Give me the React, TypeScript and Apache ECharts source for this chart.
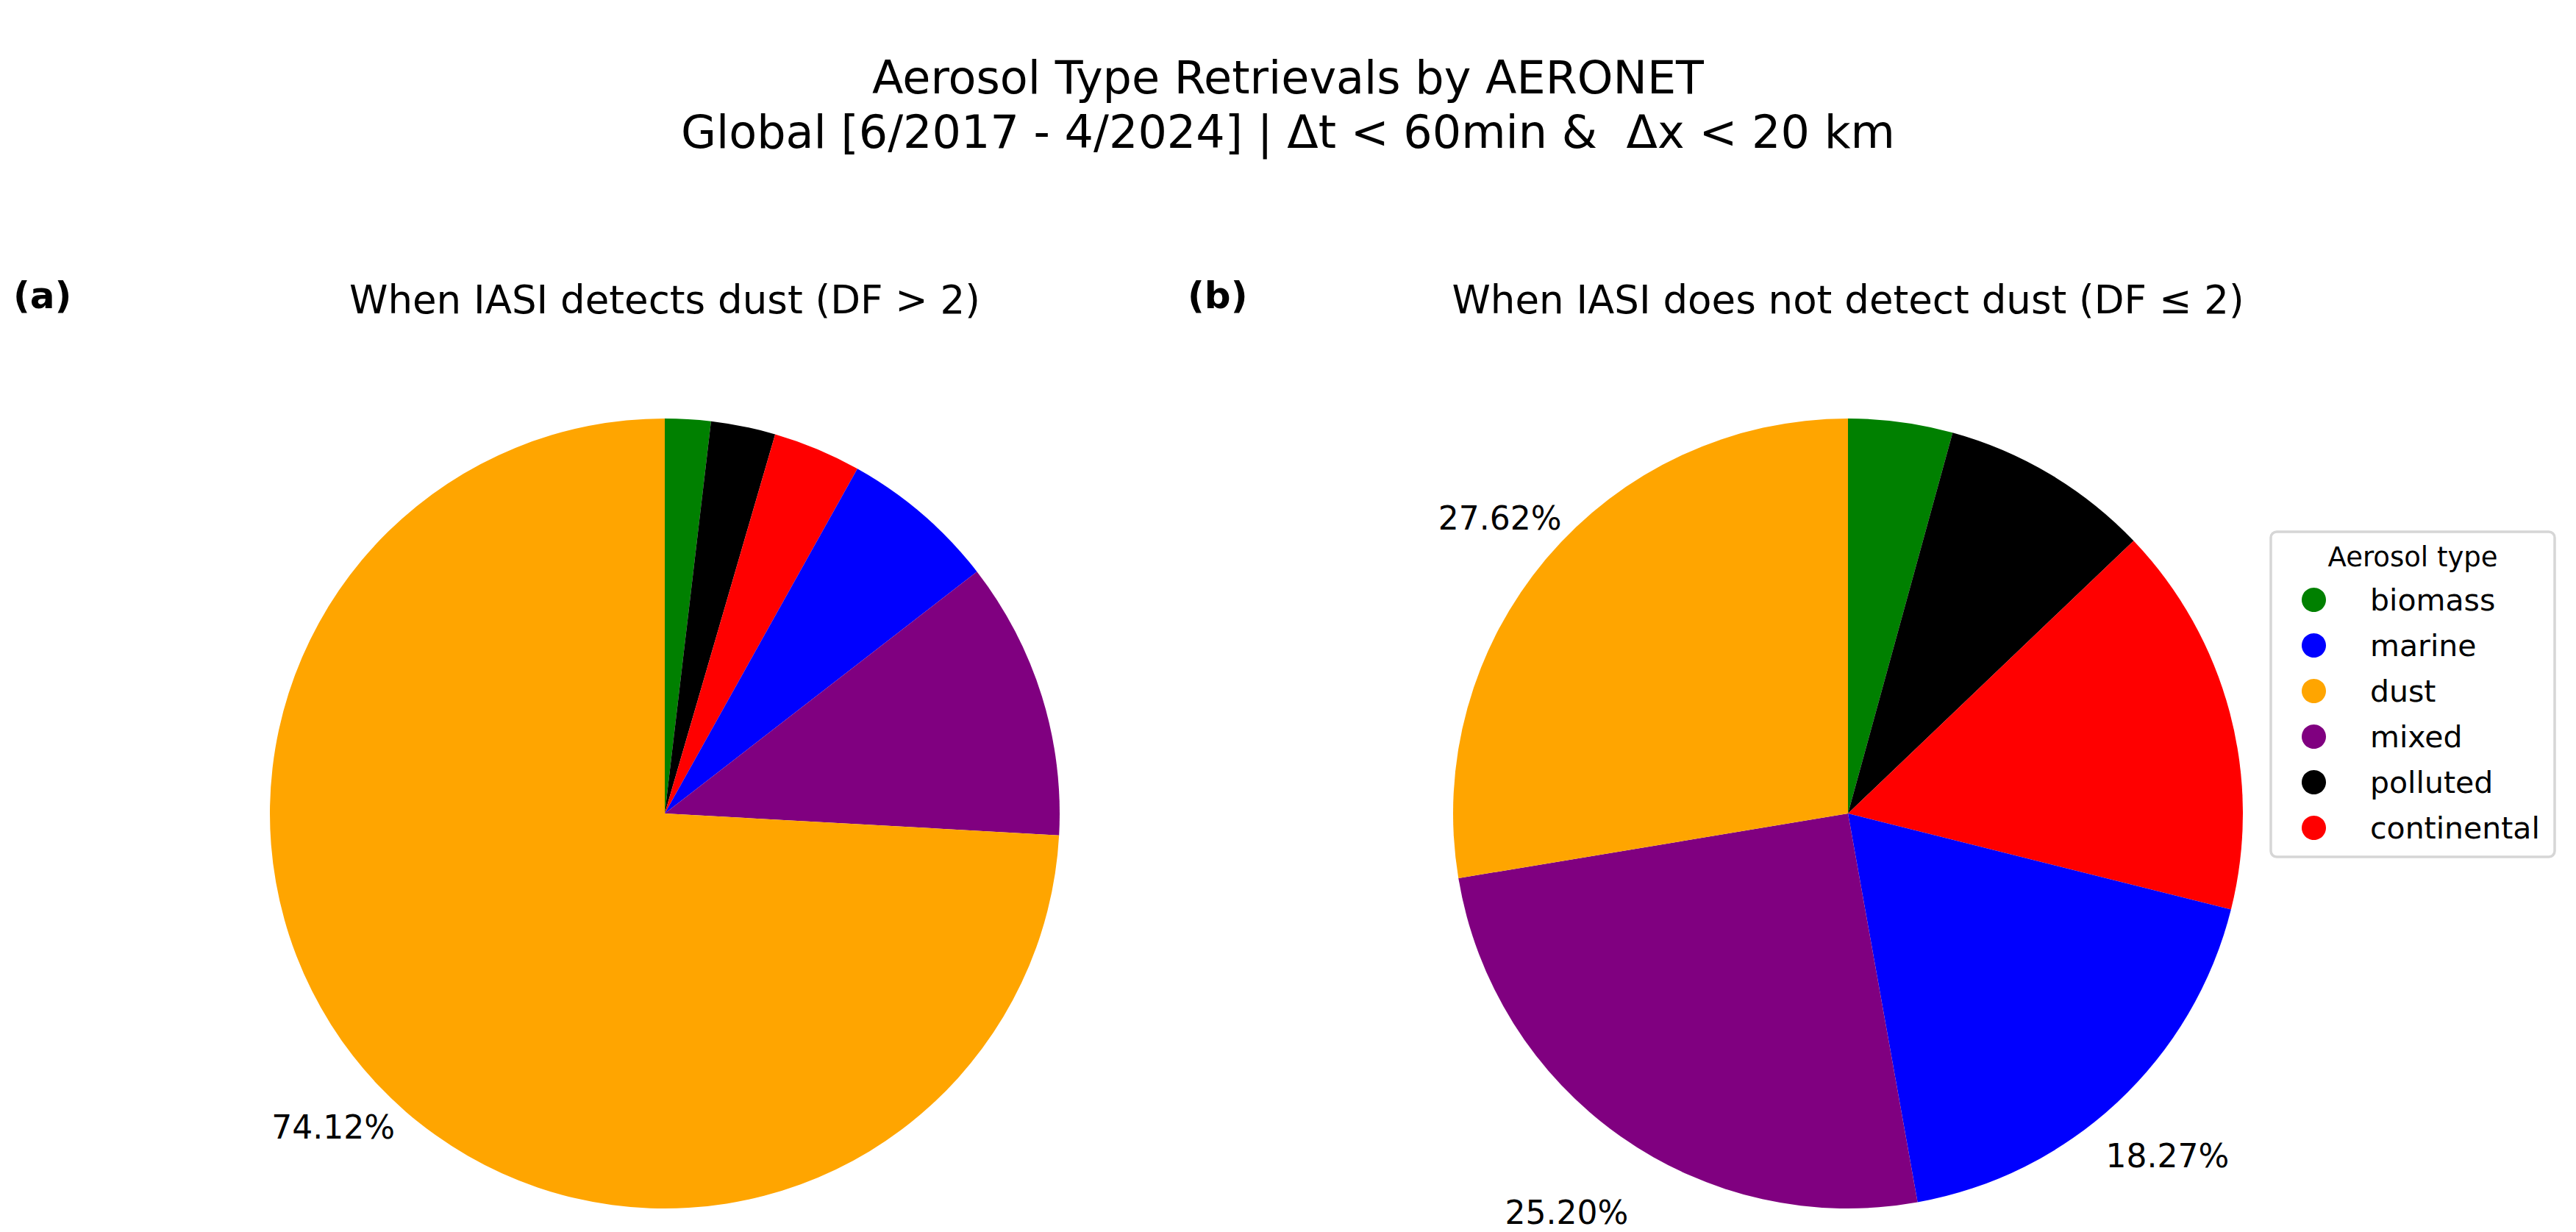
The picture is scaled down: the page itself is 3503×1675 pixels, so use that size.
import React, { useEffect, useRef } from 'react';
import * as echarts from 'echarts';

// ---- data ----
const categories = ['biomass', 'polluted', 'continental', 'marine', 'mixed', 'dust'];
const categoryColors = ['#008000', '#000000', '#ff0000', '#0000ff', '#800080', '#ffa500'];
const detectDust = [1.87, 2.64, 3.6, 6.4, 11.37, 74.12];
const noDetectDust = [4.27, 8.6, 16.04, 18.27, 25.2, 27.62];
const legendOrder = ['biomass', 'marine', 'dust', 'mixed', 'polluted', 'continental'];
const labelThreshold = 17;

const titleLines = [
  'Aerosol Type Retrievals by AERONET',
  'Global [6/2017 - 4/2024] | \u0394t < 60min &  \u0394x < 20 km',
];
const panelTitles = ['When IASI detects dust (DF > 2)', 'When IASI does not detect dust (DF \u2264 2)'];
const panelTags = ['(a)', '(b)'];
const legendTitle = 'Aerosol type';

// ---- layout ----
const W = 3503;
const H = 1675;
const R = 537;
const centers = [
  [904, 1106],
  [2513, 1106],
];
// distance of the percentage label from the centre, in pie radii (per category)
const labelRadiusFactor = [1.15, 1.15, 1.15, 1.18, 1.23, 1.15];
const FONT = 'DejaVu Sans';

function pieData(values: number[]) {
  return categories.map((name, i) => ({ name, value: values[i], itemStyle: { color: categoryColors[i] } }));
}
function labelData(values: number[]) {
  return categories.map((name, i) => ({ name: name + ' pct', value: values[i] }));
}

function buildOption() {
  const series: any[] = [];
  const panels = [detectDust, noDetectDust];
  panels.forEach((vals, k) => {
    series.push({
      type: 'pie',
      center: centers[k],
      radius: [0, R],
      startAngle: 90,
      clockwise: true,
      data: pieData(vals),
      label: { show: false },
      labelLine: { show: false },
      itemStyle: { borderWidth: 0 },
      emphasis: { disabled: true },
      silent: true,
    });
  });
  panels.forEach((vals, k) => {
    categories.forEach((cat, ci) => {
      if (vals[ci] < labelThreshold) return;
      const f = labelRadiusFactor[ci];
      series.push({
        type: 'pie',
        center: centers[k],
        radius: [R * (f - 0.02), R * (f + 0.02)],
        startAngle: 90,
        clockwise: true,
        data: labelData(vals),
        legendHoverLink: false,
        itemStyle: { color: 'rgba(0,0,0,0)', borderWidth: 0 },
        label: {
          show: true,
          position: 'inside',
          formatter: (p: any) => (p.dataIndex === ci ? p.value.toFixed(2) + '%' : ''),
          fontSize: 44,
          fontFamily: FONT,
          color: '#000',
          textBorderWidth: 0,
        },
        labelLine: { show: false },
        emphasis: { disabled: true },
        silent: true,
      });
    });
  });

  const graphic: any[] = [
    {
      type: 'text',
      x: W / 2,
      y: 105,
      style: { text: titleLines[0], fontSize: 62, fontFamily: FONT, fill: '#000', align: 'center', verticalAlign: 'middle' },
    },
    {
      type: 'text',
      x: W / 2,
      y: 179,
      style: { text: titleLines[1], fontSize: 62, fontFamily: FONT, fill: '#000', align: 'center', verticalAlign: 'middle' },
    },
    {
      type: 'text',
      x: centers[0][0],
      y: 407,
      style: { text: panelTitles[0], fontSize: 53, fontFamily: FONT, fill: '#000', align: 'center', verticalAlign: 'middle' },
    },
    {
      type: 'text',
      x: centers[1][0],
      y: 407,
      style: { text: panelTitles[1], fontSize: 53, fontFamily: FONT, fill: '#000', align: 'center', verticalAlign: 'middle' },
    },
    {
      type: 'text',
      x: 18,
      y: 402,
      style: { text: panelTags[0], fontSize: 50, fontWeight: 'bold', fontFamily: FONT, fill: '#000', align: 'left', verticalAlign: 'middle' },
    },
    {
      type: 'text',
      x: 1615,
      y: 402,
      style: { text: panelTags[1], fontSize: 50, fontWeight: 'bold', fontFamily: FONT, fill: '#000', align: 'left', verticalAlign: 'middle' },
    },
    {
      type: 'rect',
      z: 0,
      shape: { x: 3088, y: 723, width: 386, height: 442, r: 8 },
      style: { fill: 'rgba(255,255,255,0.8)', stroke: '#d6d6d6', lineWidth: 3.5 },
    },
    {
      type: 'text',
      x: 3281,
      y: 757,
      style: { text: legendTitle, fontSize: 37, fontFamily: FONT, fill: '#000', align: 'center', verticalAlign: 'middle' },
    },
  ];

  return {
    animation: false,
    backgroundColor: '#ffffff',
    legend: {
      data: legendOrder,
      orient: 'vertical',
      left: 3130,
      top: 795,
      padding: 0,
      itemWidth: 33,
      itemHeight: 33,
      itemGap: 21,
      icon: 'circle',
      selectedMode: false,
      textStyle: { fontSize: 41, fontFamily: FONT, color: '#000', lineHeight: 33, padding: [0, 0, 0, 55] },
    },
    graphic,
    series,
  };
}

export default function App() {
  const ref = useRef<HTMLDivElement>(null);
  useEffect(() => {
    if (!ref.current) return;
    const chart = echarts.init(ref.current, undefined, { renderer: 'svg' });
    chart.setOption(buildOption() as any);
    return () => chart.dispose();
  }, []);
  return <div ref={ref} style={{ position: 'absolute', left: 0, top: 0, width: W + 'px', height: H + 'px' }} />;
}
